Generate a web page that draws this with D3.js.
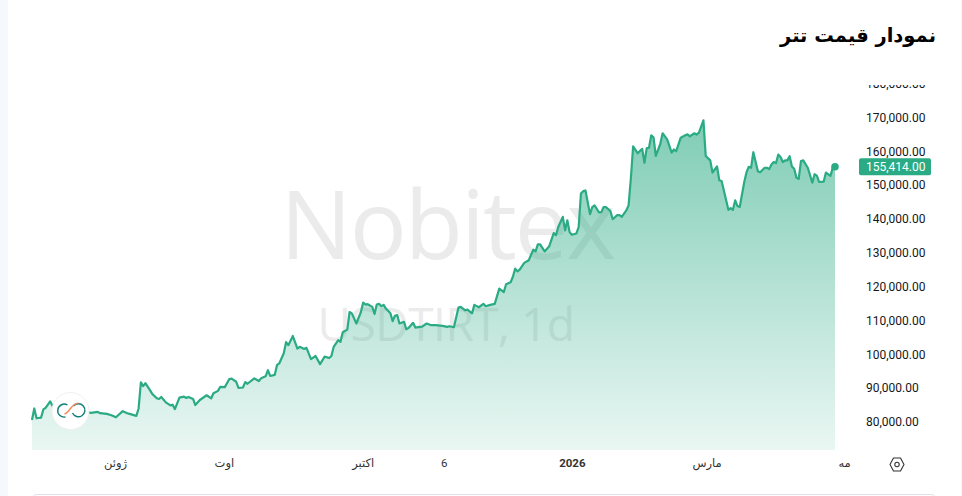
<!DOCTYPE html>
<html lang="fa">
<head>
<meta charset="utf-8">
<style>
html, body { margin: 0; padding: 0; background: #fff; overflow: hidden; }
text { font-family: Roboto, "DejaVu Sans", sans-serif; }
</style>
</head>
<body>
<div id="chart"></div>
<script src="https://d3js.org/d3.v7.min.js"></script>
<script>
// daily bar number and USDT/IRT close
var days = [0,1,2,4,5,6,8,9,10,13,16,19,22,26,29,30,33,35,37,40,42,43,46,47,48,49,50,52,53,55,56,57,59,61,62,63,65,67,68,69,71,72,74,77,79,80,82,83,85,87,88,90,91,93,94,95,98,100,101,103,104,105,107,108,109,111,112,113,115,117,118,120,121,123,125,127,129,131,132,133,135,136,137,139,140,141,143,145,146,147,148,150,151,152,153,154,155,156,158,159,160,161,162,164,165,166,168,169,171,172,174,176,178,181,183,184,186,188,189,191,192,194,195,197,199,200,202,204,206,208,209,211,212,213,214,215,217,219,221,222,223,224,226,228,230,231,232,234,235,236,237,238,240,241,242,243,244,246,247,248,250,251,252,253,255,256,258,259,260,262,263,264,265,267,269,270,271,272,273,274,275,277,278,280,282,283,284,286,288,289,290,292,293,294,296,297,299,300,302,303,304,305,307,308,309,310,311,312,314,315,316,317,318,320,321,323,324,325,326,327,328,329,330,331,332,333,334,335,336,337,338,339,340,342,344,345,346,347,349,350,352,353,354];
var prices = [80600,84000,81100,81300,83700,84200,86100,84800,84100,83500,83200,83000,83200,82700,83000,82600,82400,82000,81400,83200,82600,82400,81800,84000,91700,90600,91500,89400,88300,87000,86800,87400,85800,84900,85100,83800,87200,87500,87100,87400,86800,85000,86500,87900,87000,88500,89200,90400,90300,92700,92800,91900,90100,90200,91800,91300,92900,92100,92900,93500,95300,93600,93900,96800,97300,100300,103600,102700,105400,101700,102200,101600,101900,98600,99500,97100,99300,98900,99500,102200,104200,103700,106500,107300,112500,112100,109100,112500,115300,114700,114800,114000,111900,114700,114900,114200,114600,113500,112100,109800,111400,111600,109100,109600,107400,107800,109300,107900,108100,108200,109100,108600,108600,108400,108100,108300,108000,113800,114000,113000,113200,112100,114600,113900,114900,114200,114600,114900,119400,118400,120700,121300,122900,125300,124500,125000,127000,127800,130900,130400,132500,132500,130400,131900,135800,135200,137600,140600,136600,139600,136100,135300,135700,137600,147500,148200,148400,141400,143500,144000,141900,142000,143500,143500,142300,139900,141100,141100,140600,142500,144000,151900,161400,159400,160700,156600,160900,161000,164700,164100,158600,162200,165300,163500,159600,160500,160000,164000,164700,165000,164400,165300,164900,165500,169100,158600,157300,153700,155500,151400,151200,148400,142700,143200,142700,145500,143800,143500,150900,153800,155400,155100,159700,154100,153800,155100,155100,154700,156100,156800,156500,159000,158300,156800,157300,157300,158500,155500,154800,152200,151800,157100,157300,155100,150700,153200,152800,150900,151000,153700,152700,155100,155414];

var yTicks = [80000,90000,100000,110000,120000,130000,140000,150000,160000,170000,180000];
var xTickDays = [36.6,84.6,145.8,181.5,238,297.4,358];
var xTickLabels = ["ژوئن","اوت","اکتبر","6","2026","مارس","مه"];
var boldLabels = ["2026"];

var width = 962, height = 496;
var top_ = 85, bottom = 450, left = 32, right = 835;
var green = "#2aab84";

var svg = d3.select("#chart").append("svg")
  .attr("width", width)
  .attr("height", height)
  .style("display", "block");

var defs = svg.append("defs");
var grad = defs.append("linearGradient")
  .attr("id", "areaFill")
  .attr("gradientUnits", "userSpaceOnUse")
  .attr("x1", 0).attr("x2", 0).attr("y1", 120).attr("y2", bottom);
grad.append("stop").attr("offset", "0%").attr("stop-color", green).attr("stop-opacity", 0.6);
grad.append("stop").attr("offset", "100%").attr("stop-color", green).attr("stop-opacity", 0.1);

defs.append("clipPath").attr("id", "axisClip").append("rect")
  .attr("x", 0).attr("y", top_).attr("width", 100).attr("height", bottom - top_);

// page strips either side of the card
svg.append("rect").attr("width", 8).attr("height", height).attr("fill", "#f5f9fd");
svg.append("rect").attr("x", 961).attr("width", 1).attr("height", height).attr("fill", "#f5f9fd");

// title
svg.append("text")
  .attr("x", 936).attr("y", 42)
  .attr("text-anchor", "start")
  .attr("direction", "rtl")
  .style("font-family", "'DejaVu Sans', sans-serif")
  .style("font-size", "19.5px")
  .style("font-weight", "bold")
  .attr("fill", "#000")
  .text("نمودار قیمت تتر");

var x = d3.scaleLinear().domain([0, 354]).range([left, right]);
var y = d3.scaleLinear().domain([80000, 180000]).range([422, 83.5]);

// watermark sits under the area
svg.append("text")
  .attr("x", 447).attr("y", 259)
  .attr("text-anchor", "middle")
  .style("font-family", "'Open Sans', sans-serif")
  .style("font-size", "95px")
  .style("letter-spacing", "-2px")
  .attr("fill", "#ebebeb")
  .text("Nobitex");
svg.append("text")
  .attr("x", 446).attr("y", 341)
  .attr("text-anchor", "middle")
  .style("font-family", "'Open Sans', sans-serif")
  .style("font-size", "46px")
  .style("letter-spacing", "-0.5px")
  .attr("fill", "#ebebeb")
  .text("USDTIRT, 1d");

var series = days.map(function(d, i) { return {day: d, price: prices[i]}; });

var area = d3.area()
  .x(function(d) { return x(d.day); })
  .y0(bottom)
  .y1(function(d) { return y(d.price); });
var line = d3.line()
  .x(function(d) { return x(d.day); })
  .y(function(d) { return y(d.price); });

svg.append("path").datum(series).attr("d", area).attr("fill", "url(#areaFill)");
svg.append("path").datum(series).attr("d", line)
  .attr("fill", "none")
  .attr("stroke", green)
  .attr("stroke-width", 2.2)
  .attr("stroke-linejoin", "round");

var last = series[series.length - 1];
svg.append("circle").attr("cx", x(last.day)).attr("cy", y(last.price)).attr("r", 3.8).attr("fill", green);

// price axis
var yAxis = svg.append("g")
  .attr("transform", "translate(860,0)")
  .attr("clip-path", "url(#axisClip)")
  .call(d3.axisRight(y).tickValues(yTicks).tickSize(0).tickPadding(6).tickFormat(d3.format(",.2f")));
yAxis.select(".domain").remove();
yAxis.selectAll("text")
  .style("font-family", "Roboto, sans-serif")
  .style("font-size", "12px")
  .attr("fill", "#131722");

// current price tag
svg.append("rect")
  .attr("x", 859).attr("y", y(last.price) - 8.5)
  .attr("width", 72).attr("height", 17).attr("rx", 2)
  .attr("fill", green);
svg.append("text")
  .attr("x", 866).attr("y", y(last.price))
  .attr("dy", "0.35em")
  .style("font-size", "12px")
  .attr("fill", "#fff")
  .text(d3.format(",.2f")(last.price));

// time axis
var xAxis = svg.append("g")
  .attr("transform", "translate(0," + bottom + ")")
  .call(d3.axisBottom(x).tickValues(xTickDays).tickSize(0).tickPadding(9)
    .tickFormat(function(d, i) { return xTickLabels[i]; }));
xAxis.select(".domain").remove();
xAxis.selectAll("text")
  .style("font-family", "Roboto, 'DejaVu Sans', sans-serif")
  .style("font-size", "11.5px")
  .style("font-weight", function(d, i) { return boldLabels.indexOf(xTickLabels[i]) >= 0 ? "bold" : "normal"; })
  .attr("fill", "#333");

// settings icon
var icon = svg.append("g").attr("transform", "translate(897,464.5)")
  .attr("fill", "none").attr("stroke", "#333").attr("stroke-width", 1.1);
icon.append("path").attr("d", "M-7,0 L-3.5,-6.5 L3.5,-6.5 L7,0 L3.5,6.5 L-3.5,6.5 Z").attr("stroke-linejoin", "round");
icon.append("circle").attr("r", 2.2);

// logo badge over the line
var logo = svg.append("g").attr("transform", "translate(70.5,411)");
logo.append("circle").attr("r", 18.5).attr("fill", "#fff").attr("stroke", "#f0f0f0").attr("stroke-width", 1);
logo.append("path").attr("d", "M-3,-6 A6.5,6.5 0 1 0 -5,6").attr("fill", "none").attr("stroke", "#0f7f78").attr("stroke-width", 1.4);
logo.append("path").attr("d", "M3,-5 A6.5,6.5 0 1 1 2,2").attr("fill", "none").attr("stroke", "#0f7f78").attr("stroke-width", 1.4);
logo.append("path").attr("d", "M-6,3 C-1,2 0,-7 8,-8").attr("fill", "none").attr("stroke", "#f08a5d").attr("stroke-width", 1.4);

// top edge of the next card
svg.append("path")
  .attr("d", "M33,497 Q33,494.5 38,494.5 L930,494.5 Q935,494.5 935,497")
  .attr("fill", "none").attr("stroke", "#e0e0e8");
</script>
</body>
</html>
